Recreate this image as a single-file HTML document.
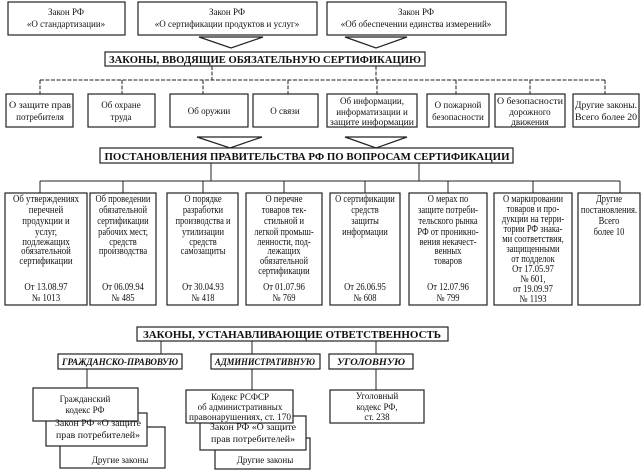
<!DOCTYPE html>
<html><head><meta charset="utf-8"><style>
body{margin:0;background:#fff}
svg{display:block}
text{font-family:"Liberation Serif","DejaVu Serif",serif;fill:#111}
.t{font-size:9px}
.s{font-size:10px}
.h{font-size:11px;font-weight:bold}
.i{font-size:9.5px;font-weight:bold;font-style:italic}
</style></head><body>
<svg width="644" height="475" viewBox="0 0 644 475" xmlns="http://www.w3.org/2000/svg">
<g fill="#fff" stroke="#222" stroke-width="1.2">
<rect x="8" y="2" width="117" height="33"/>
<rect x="138" y="2" width="179" height="33"/>
<rect x="327" y="2" width="179" height="33"/>
<polygon points="199,37 263,37 231,48"/>
<polygon points="345,37 407,37 376,48"/>
<rect x="105" y="52" width="320" height="14"/>
<path d="M212,66V80M376,66V80M40,80H605M40,80V94M122,80V94M203,80V94M288,80V94M377,80V94M456,80V94M530,80V94M605,80V94" fill="none" stroke-width="1" stroke-dasharray="4,1.5"/>
<rect x="6" y="94" width="67" height="33"/>
<rect x="88" y="94" width="67" height="33"/>
<rect x="170" y="94" width="78" height="33"/>
<rect x="253" y="94" width="65" height="33"/>
<rect x="327" y="94" width="90" height="33"/>
<rect x="427" y="94" width="62" height="33"/>
<rect x="495" y="94" width="70" height="33"/>
<rect x="573" y="94" width="66" height="33"/>
<polygon points="197,137 262,137 230,148"/>
<polygon points="345,137 407,137 376,148"/>
<rect x="100" y="148" width="413" height="15"/>
<path d="M211,163V181M419,163V181M40,181H620M40,181V193M123,181V193M203,181V193M284,181V193M365,181V193M448,181V193M533,181V193M620,181V193" fill="none" stroke-width="1"/>
<rect x="5" y="193" width="82" height="112"/>
<rect x="90" y="193" width="66" height="112"/>
<rect x="167" y="193" width="71" height="112"/>
<rect x="246" y="193" width="76" height="112"/>
<rect x="330" y="193" width="70" height="112"/>
<rect x="409" y="193" width="78" height="112"/>
<rect x="494" y="193" width="78" height="112"/>
<rect x="578" y="193" width="62" height="112"/>
<rect x="137" y="327" width="311" height="14"/>
<path d="M161,341V354M252,341V354M376,341V354M87,369V388M252,369V390M376,369V390" fill="none" stroke-width="1"/>
<rect x="58" y="354" width="124" height="15"/>
<rect x="211" y="354" width="109" height="15"/>
<rect x="329" y="354" width="84" height="15"/>
<rect x="60" y="427" width="105" height="41"/>
<rect x="46" y="413" width="101" height="33"/>
<rect x="33" y="388" width="105" height="33"/>
<rect x="215" y="438" width="95" height="31"/>
<rect x="200" y="416" width="106" height="34"/>
<rect x="186" y="390" width="107" height="33"/>
<rect x="330" y="390" width="94" height="33"/>
</g>
<g class="t" text-anchor="middle">
<text x="66" y="15">Закон РФ</text><text x="66" y="27">«О стандартизации»</text>
<text x="227" y="15">Закон РФ</text><text x="227" y="27">«О сертификации продуктов и услуг»</text>
<text x="416" y="15">Закон РФ</text><text x="416" y="27">«Об обеспечении единства измерений»</text>
<text x="40" y="108" textLength="62" lengthAdjust="spacingAndGlyphs">О защите прав</text><text x="40" y="120">потребителя</text>
<text x="121" y="108">Об охране</text><text x="121" y="120">труда</text>
<text x="209" y="114">Об оружии</text>
<text x="285" y="114">О связи</text>
<text x="372" y="104">Об информации,</text><text x="372" y="115">информатизации и</text><text x="372" y="125" textLength="84" lengthAdjust="spacingAndGlyphs">защите информации</text>
<text x="458" y="108">О пожарной</text><text x="458" y="120">безопасности</text>
<text x="530" y="104" textLength="66" lengthAdjust="spacingAndGlyphs">О безопасности</text><text x="530" y="115">дорожного</text><text x="530" y="125">движения</text>
<text x="606" y="108" textLength="62" lengthAdjust="spacingAndGlyphs">Другие законы.</text><text x="606" y="120" textLength="62" lengthAdjust="spacingAndGlyphs">Всего более 20</text>
</g>
<g class="h" text-anchor="middle">
<text x="265" y="63" textLength="312" lengthAdjust="spacingAndGlyphs">ЗАКОНЫ, ВВОДЯЩИЕ ОБЯЗАТЕЛЬНУЮ    СЕРТИФИКАЦИЮ</text>
<text x="307" y="160" textLength="405" lengthAdjust="spacingAndGlyphs">ПОСТАНОВЛЕНИЯ ПРАВИТЕЛЬСТВА РФ    ПО ВОПРОСАМ СЕРТИФИКАЦИИ</text>
<text x="292" y="338" textLength="298" lengthAdjust="spacingAndGlyphs">ЗАКОНЫ, УСТАНАВЛИВАЮЩИЕ    ОТВЕТСТВЕННОСТЬ</text>
</g>
<g class="i" text-anchor="middle">
<text x="120" y="365" textLength="116" lengthAdjust="spacingAndGlyphs">ГРАЖДАНСКО-ПРАВОВУЮ</text>
<text x="265" y="365" textLength="100" lengthAdjust="spacingAndGlyphs">АДМИНИСТРАТИВНУЮ</text>
<text x="371" y="365" textLength="68" lengthAdjust="spacingAndGlyphs">УГОЛОВНУЮ</text>
</g>
<g class="s" text-anchor="middle">
<g transform="translate(46,0) scale(0.88,1)"><text y="202">Об утверждениях</text><text y="213">перечней</text><text y="224">продукции и</text><text y="235">услуг,</text><text y="245">подлежащих</text><text y="254">обязательной</text><text y="264">сертификации</text><text y="290">От 13.08.97</text><text y="301">№ 1013</text></g>
<g transform="translate(123,0) scale(0.85,1)"><text y="202">Об проведении</text><text y="213">обязательной</text><text y="224">сертификации</text><text y="235">рабочих мест,</text><text y="245">средств</text><text y="254">производства</text><text y="290">От 06.09.94</text><text y="301">№ 485</text></g>
<g transform="translate(203,0) scale(0.85,1)"><text y="202">О порядке</text><text y="213">разработки</text><text y="224">производства и</text><text y="235">утилизации</text><text y="245">средств</text><text y="254">самозащиты</text><text y="290">От 30.04.93</text><text y="301">№ 418</text></g>
<g transform="translate(284,0) scale(0.85,1)"><text y="202">О перечне</text><text y="213">товаров тек-</text><text y="224">стильной и</text><text y="235">легкой промыш-</text><text y="245">ленности, под-</text><text y="254">лежащих</text><text y="264">обязательной</text><text y="274">сертификации</text><text y="290">От 01.07.96</text><text y="301">№ 769</text></g>
<g transform="translate(365,0) scale(0.85,1)"><text y="202">О сертификации</text><text y="213">средств</text><text y="224">защиты</text><text y="235">информации</text><text y="290">От 26.06.95</text><text y="301">№ 608</text></g>
<g transform="translate(448,0) scale(0.85,1)"><text y="202">О мерах по</text><text y="213">защите потреби-</text><text y="224">тельского рынка</text><text y="235">РФ от проникно-</text><text y="245">вения некачест-</text><text y="254">венных</text><text y="264">товаров</text><text y="290">От 12.07.96</text><text y="301">№ 799</text></g>
<g transform="translate(533,0) scale(0.85,1)"><text y="202">О маркировании</text><text y="212">товаров и про-</text><text y="222">дукции на терри-</text><text y="232">тории РФ знака-</text><text y="242">ми соответствия,</text><text y="252">защищенными</text><text y="262">от подделок</text><text y="272">От 17.05.97</text><text y="282">№ 601,</text><text y="292">от 19.09.97</text><text y="302">№ 1193</text></g>
<g transform="translate(609,0) scale(0.85,1)"><text y="202">Другие</text><text y="213">постановления.</text><text y="224">Всего</text><text y="235">более 10</text></g>
</g>
<g class="t" text-anchor="middle">
<text x="85" y="402">Гражданский</text><text x="85" y="413">кодекс РФ</text>
<text x="98" y="426" textLength="86" lengthAdjust="spacingAndGlyphs">Закон РФ «О защите</text><text x="98" y="438" textLength="84" lengthAdjust="spacingAndGlyphs">прав потребителей»</text>
<text x="120" y="463">Другие законы</text>
<text x="240" y="400">Кодекс РСФСР</text><text x="240" y="410">об административных</text><text x="240" y="420" textLength="102" lengthAdjust="spacingAndGlyphs">правонарушениях, ст. 170</text>
<text x="253" y="430" textLength="86" lengthAdjust="spacingAndGlyphs">Закон РФ «О защите</text><text x="253" y="442" textLength="84" lengthAdjust="spacingAndGlyphs">прав потребителей»</text>
<text x="265" y="463">Другие законы</text>
<text x="377" y="399">Уголовный</text><text x="377" y="410">кодекс РФ,</text><text x="377" y="420">ст. 238</text>
</g>
</svg>
</body></html>
